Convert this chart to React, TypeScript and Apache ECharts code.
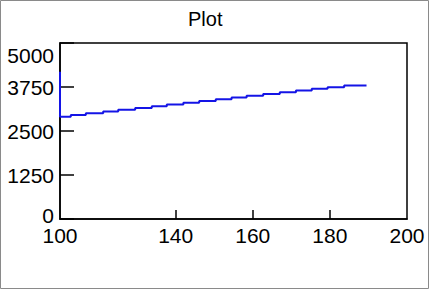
import React, { useEffect, useRef } from "react";
import * as echarts from "echarts";

// Step positions (x) and levels (y)
const stepX = [110, 110, 112.8, 116.7, 121.2, 125.1, 129.5, 133.8, 137.7, 142.0, 146.1, 150.4, 154.5, 158.4, 162.7, 167.0, 171.2, 175.3, 179.4, 183.7, 189.5];
const stepY = [4180, 2905, 2955, 3005, 3055, 3105, 3155, 3205, 3255, 3305, 3355, 3400, 3450, 3500, 3550, 3600, 3650, 3700, 3745, 3795, 3795];

const xTickValues = [110, 140, 160, 180, 200];
const xTickLabels = ["100", "140", "160", "180", "200"];
const xInnerTicks = [140, 160, 180];
const yTickLabels = ["0", "1250", "2500", "3750", "5000"];

export default function App() {
  const ref = useRef<HTMLDivElement>(null);
  useEffect(() => {
    if (!ref.current) return;
    const chart = echarts.init(ref.current, undefined, { renderer: "svg" });
    const font = "'Liberation Sans', Arial, sans-serif";
    chart.setOption({
      animation: false,
      backgroundColor: "#fff",
      title: {
        text: "Plot",
        left: 183,
        top: 4,
        textStyle: { fontFamily: font, fontSize: 20, fontWeight: "normal", color: "#000" },
      },
      graphic: [
        {
          type: "rect",
          shape: { x: 0.5, y: 0.5, width: 428, height: 288 },
          style: { fill: "none", stroke: "#8a8a8a", lineWidth: 1 },
          silent: true,
        },
      ],
      grid: {
        left: 60,
        top: 43,
        right: 23,
        bottom: 71,
        containLabel: false,
        show: true,
        borderColor: "#000",
        borderWidth: 1.5,
      },
      xAxis: {
        type: "value",
        min: 110,
        max: 200,
        interval: 10,
        splitLine: { show: false },
        axisLine: { show: true, lineStyle: { color: "#000", width: 1.5 } },
        axisTick: {
          show: true,
          inside: true,
          length: 9,
          customValues: xInnerTicks,
          lineStyle: { color: "#000", width: 1.5 },
        },
        axisLabel: {
          customValues: xTickValues,
          margin: 9,
          fontFamily: font,
          fontSize: 21,
          lineHeight: 14,
          color: "#000",
          formatter: (v: number) => {
            const i = xTickValues.indexOf(v);
            return i >= 0 ? xTickLabels[i] : "";
          },
        },
      },
      yAxis: {
        type: "value",
        min: 0,
        max: 5000,
        interval: 1250,
        splitLine: { show: false },
        axisLine: { show: true, lineStyle: { color: "#000", width: 1.5 } },
        axisTick: { show: true, inside: true, length: 14, lineStyle: { color: "#000", width: 1.5 } },
        axisLabel: {
          margin: 6,
          fontFamily: font,
          fontSize: 21,
          lineHeight: 14,
          color: "#000",
          formatter: (v: number) => {
            const i = Math.round(v / 1250);
            const s = yTickLabels[i] ?? String(v);
            if (v === 5000) return "{top|" + s + "}";
            if (v === 0) return "{bot|" + s + "}";
            return s;
          },
          rich: {
            top: { fontFamily: font, fontSize: 21, lineHeight: 14, color: "#000", padding: [24, 0, 0, 0] },
            bot: { fontFamily: font, fontSize: 21, lineHeight: 12, color: "#000", padding: [0, 0, 7, 0] },
          },
        },
      },
      series: [
        {
          type: "line",
          step: "end",
          showSymbol: false,
          clip: false,
          z: 5,
          data: stepX.map((x, i) => [x, stepY[i]]),
          lineStyle: { color: "rgb(20,20,230)", width: 2 },
        },
      ],
    });
    return () => chart.dispose();
  }, []);
  return (
    <div
      ref={ref}
      style={{ position: "fixed", left: 0, top: 0, width: 430, height: 290 }}
    />
  );
}
